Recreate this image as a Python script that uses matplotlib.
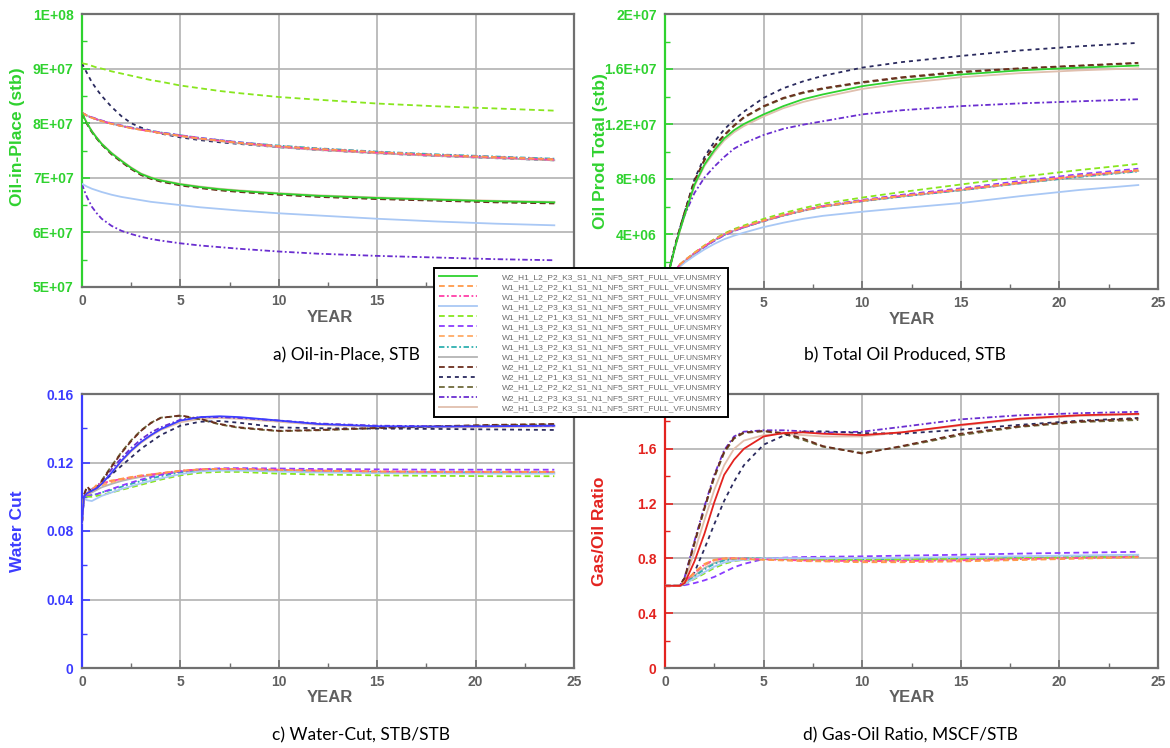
import matplotlib
matplotlib.use("Agg")
import matplotlib.pyplot as plt
from matplotlib.ticker import FixedLocator, MultipleLocator

# ---------------- data ----------------
SERIES = [
    "W2_H1_L2_P2_K3_S1_N1_NF5_SRT_FULL_VF.UNSMRY",
    "W1_H1_L2_P2_K1_S1_N1_NF5_SRT_FULL_VF.UNSMRY",
    "W1_H1_L2_P2_K2_S1_N1_NF5_SRT_FULL_VF.UNSMRY",
    "W1_H1_L2_P3_K3_S1_N1_NF5_SRT_FULL_VF.UNSMRY",
    "W1_H1_L2_P1_K3_S1_N1_NF5_SRT_FULL_VF.UNSMRY",
    "W1_H1_L3_P2_K3_S1_N1_NF5_SRT_FULL_UF.UNSMRY",
    "W1_H1_L2_P2_K3_S1_N1_NF5_SRT_FULL_VF.UNSMRY",
    "W1_H1_L3_P2_K3_S1_N1_NF5_SRT_FULL_VF.UNSMRY",
    "W1_H1_L2_P2_K3_S1_N1_NF5_SRT_FULL_UF.UNSMRY",
    "W2_H1_L2_P2_K1_S1_N1_NF5_SRT_FULL_VF.UNSMRY",
    "W2_H1_L2_P1_K3_S1_N1_NF5_SRT_FULL_VF.UNSMRY",
    "W2_H1_L2_P2_K2_S1_N1_NF5_SRT_FULL_VF.UNSMRY",
    "W2_H1_L2_P3_K3_S1_N1_NF5_SRT_FULL_VF.UNSMRY",
    "W2_H1_L3_P2_K3_S1_N1_NF5_SRT_FULL_VF.UNSMRY",
]

YEARS = [0, 0.1, 0.25, 0.5, 0.75, 1, 1.5, 2, 2.5, 3, 3.5, 4, 5, 6, 7, 8, 10, 12, 15, 18, 21, 24]

# a) Oil-in-place, units of 1E+07 stb (one row per series, order of SERIES)
OIP_E7 = [
    [8.19, 8.11, 8.00, 7.85, 7.73, 7.62, 7.45, 7.31, 7.18, 7.07, 7.00, 6.95, 6.88, 6.83, 6.79, 6.76, 6.71, 6.67, 6.63, 6.60, 6.57, 6.55],
    [8.19, 8.17, 8.14, 8.10, 8.07, 8.04, 7.99, 7.95, 7.91, 7.88, 7.85, 7.82, 7.77, 7.72, 7.68, 7.64, 7.58, 7.53, 7.47, 7.42, 7.38, 7.34],
    [8.19, 8.17, 8.14, 8.10, 8.07, 8.04, 7.99, 7.95, 7.91, 7.88, 7.85, 7.82, 7.77, 7.72, 7.68, 7.64, 7.57, 7.52, 7.46, 7.41, 7.37, 7.33],
    [6.89, 6.87, 6.84, 6.80, 6.77, 6.74, 6.69, 6.65, 6.62, 6.59, 6.56, 6.54, 6.50, 6.46, 6.43, 6.40, 6.35, 6.31, 6.25, 6.20, 6.16, 6.13],
    [9.10, 9.09, 9.08, 9.05, 9.02, 9.00, 8.95, 8.91, 8.87, 8.83, 8.79, 8.76, 8.69, 8.64, 8.59, 8.55, 8.48, 8.43, 8.36, 8.31, 8.27, 8.23],
    [8.19, 8.17, 8.14, 8.11, 8.08, 8.05, 8.00, 7.96, 7.92, 7.89, 7.86, 7.83, 7.78, 7.73, 7.69, 7.65, 7.58, 7.53, 7.47, 7.42, 7.38, 7.34],
    [8.19, 8.17, 8.14, 8.10, 8.07, 8.04, 7.99, 7.95, 7.91, 7.88, 7.85, 7.82, 7.77, 7.72, 7.68, 7.64, 7.57, 7.52, 7.46, 7.41, 7.37, 7.33],
    [8.19, 8.17, 8.14, 8.10, 8.07, 8.04, 7.99, 7.95, 7.92, 7.89, 7.86, 7.83, 7.78, 7.73, 7.69, 7.65, 7.59, 7.54, 7.48, 7.43, 7.39, 7.35],
    [8.19, 8.17, 8.14, 8.10, 8.07, 8.04, 7.99, 7.95, 7.91, 7.88, 7.85, 7.82, 7.76, 7.71, 7.67, 7.63, 7.56, 7.51, 7.45, 7.40, 7.36, 7.32],
    [8.19, 8.10, 7.99, 7.84, 7.72, 7.61, 7.43, 7.29, 7.16, 7.05, 6.98, 6.93, 6.86, 6.81, 6.77, 6.74, 6.69, 6.65, 6.61, 6.58, 6.55, 6.53],
    [9.10, 9.02, 8.92, 8.75, 8.62, 8.50, 8.30, 8.13, 8.00, 7.92, 7.86, 7.81, 7.74, 7.69, 7.65, 7.62, 7.56, 7.51, 7.45, 7.40, 7.36, 7.32],
    [8.19, 8.10, 7.99, 7.84, 7.72, 7.61, 7.44, 7.30, 7.17, 7.06, 6.99, 6.94, 6.87, 6.82, 6.78, 6.75, 6.70, 6.66, 6.62, 6.59, 6.56, 6.54],
    [6.89, 6.78, 6.65, 6.47, 6.35, 6.25, 6.12, 6.03, 5.97, 5.92, 5.88, 5.85, 5.80, 5.76, 5.73, 5.70, 5.65, 5.61, 5.57, 5.54, 5.51, 5.49],
    [8.19, 8.11, 8.01, 7.86, 7.74, 7.63, 7.46, 7.32, 7.19, 7.08, 7.01, 6.96, 6.89, 6.84, 6.80, 6.77, 6.72, 6.68, 6.64, 6.61, 6.58, 6.56],
]

# b) Cumulative oil produced, units of 1E+06 stb
NP_E6 = [
    [0, 0.62, 1.55, 3.00, 4.25, 5.40, 7.60, 9.05, 10.10, 10.95, 11.55, 12.00, 12.70, 13.30, 13.80, 14.15, 14.75, 15.15, 15.60, 15.90, 16.10, 16.25],
    [0, 0.36, 0.82, 1.33, 1.78, 2.08, 2.64, 3.14, 3.58, 3.98, 4.28, 4.53, 4.98, 5.38, 5.72, 6.02, 6.43, 6.78, 7.25, 7.75, 8.25, 8.65],
    [0, 0.36, 0.81, 1.32, 1.77, 2.07, 2.62, 3.12, 3.57, 3.97, 4.27, 4.52, 4.97, 5.37, 5.72, 6.02, 6.42, 6.77, 7.23, 7.73, 8.23, 8.63],
    [0, 0.33, 0.75, 1.22, 1.62, 1.92, 2.42, 2.88, 3.28, 3.62, 3.88, 4.10, 4.50, 4.82, 5.10, 5.32, 5.62, 5.88, 6.25, 6.75, 7.20, 7.56],
    [0, 0.36, 0.82, 1.33, 1.78, 2.08, 2.65, 3.17, 3.63, 4.04, 4.36, 4.62, 5.10, 5.52, 5.88, 6.20, 6.65, 7.05, 7.60, 8.15, 8.65, 9.10],
    [0, 0.34, 0.78, 1.28, 1.72, 2.02, 2.56, 3.05, 3.50, 3.90, 4.22, 4.48, 4.95, 5.37, 5.73, 6.05, 6.48, 6.85, 7.32, 7.85, 8.35, 8.75],
    [0, 0.35, 0.80, 1.30, 1.75, 2.05, 2.60, 3.10, 3.55, 3.95, 4.25, 4.50, 4.95, 5.35, 5.70, 6.00, 6.40, 6.75, 7.20, 7.70, 8.20, 8.60],
    [0, 0.35, 0.79, 1.29, 1.73, 2.03, 2.58, 3.08, 3.52, 3.92, 4.23, 4.48, 4.93, 5.33, 5.68, 5.98, 6.38, 6.72, 7.18, 7.68, 8.15, 8.55],
    [0, 0.35, 0.80, 1.30, 1.74, 2.04, 2.59, 3.09, 3.54, 3.94, 4.24, 4.49, 4.94, 5.34, 5.69, 5.99, 6.39, 6.73, 7.18, 7.68, 8.18, 8.58],
    [0, 0.65, 1.60, 3.10, 4.40, 5.60, 7.90, 9.40, 10.40, 11.20, 11.90, 12.50, 13.30, 13.90, 14.30, 14.60, 15.05, 15.40, 15.80, 16.05, 16.25, 16.45],
    [0, 0.65, 1.60, 3.10, 4.40, 5.60, 8.00, 9.60, 10.70, 11.60, 12.30, 12.90, 13.90, 14.60, 15.10, 15.50, 16.10, 16.50, 16.95, 17.35, 17.65, 17.90],
    [0, 0.65, 1.60, 3.10, 4.40, 5.60, 7.85, 9.35, 10.35, 11.15, 11.85, 12.45, 13.25, 13.85, 14.25, 14.55, 15.00, 15.35, 15.75, 16.02, 16.22, 16.42],
    [0, 0.64, 1.58, 3.05, 4.30, 5.40, 7.00, 8.10, 8.90, 9.60, 10.20, 10.60, 11.20, 11.65, 11.95, 12.20, 12.70, 13.00, 13.30, 13.50, 13.65, 13.80],
    [0, 0.60, 1.50, 2.95, 4.20, 5.35, 7.50, 8.95, 9.95, 10.80, 11.40, 11.85, 12.55, 13.15, 13.60, 13.95, 14.55, 14.95, 15.40, 15.70, 15.90, 16.05],
]

# c) Water cut, STB/STB
WCUT = [
    [0.085, 0.100, 0.1020, 0.1035, 0.1050, 0.1075, 0.1140, 0.1210, 0.1270, 0.1320, 0.1360, 0.1395, 0.1445, 0.1465, 0.1470, 0.1465, 0.1445, 0.1425, 0.1412, 0.1410, 0.1412, 0.1415],
    [0.085, 0.100, 0.1020, 0.1040, 0.1070, 0.1080, 0.1095, 0.1105, 0.1115, 0.1125, 0.1130, 0.1138, 0.1152, 0.1160, 0.1163, 0.1162, 0.1157, 0.1152, 0.1147, 0.1145, 0.1145, 0.1145],
    [0.085, 0.100, 0.1018, 0.1038, 0.1065, 0.1078, 0.1093, 0.1103, 0.1113, 0.1122, 0.1130, 0.1137, 0.1152, 0.1160, 0.1163, 0.1163, 0.1158, 0.1153, 0.1148, 0.1146, 0.1146, 0.1146],
    [0.085, 0.099, 0.0980, 0.0975, 0.0990, 0.1005, 0.1025, 0.1045, 0.1062, 0.1078, 0.1093, 0.1107, 0.1132, 0.1148, 0.1153, 0.1153, 0.1147, 0.1142, 0.1138, 0.1136, 0.1135, 0.1135],
    [0.085, 0.100, 0.1000, 0.1000, 0.1005, 0.1010, 0.1025, 0.1040, 0.1055, 0.1070, 0.1085, 0.1100, 0.1125, 0.1140, 0.1145, 0.1145, 0.1135, 0.1130, 0.1125, 0.1122, 0.1120, 0.1120],
    [0.085, 0.100, 0.1005, 0.1010, 0.1015, 0.1025, 0.1045, 0.1065, 0.1083, 0.1100, 0.1115, 0.1128, 0.1148, 0.1160, 0.1166, 0.1167, 0.1165, 0.1162, 0.1160, 0.1158, 0.1158, 0.1158],
    [0.085, 0.100, 0.1015, 0.1030, 0.1050, 0.1065, 0.1085, 0.1100, 0.1110, 0.1120, 0.1128, 0.1135, 0.1150, 0.1158, 0.1162, 0.1162, 0.1157, 0.1152, 0.1147, 0.1145, 0.1144, 0.1144],
    [0.085, 0.100, 0.1005, 0.1010, 0.1015, 0.1025, 0.1040, 0.1058, 0.1075, 0.1092, 0.1107, 0.1120, 0.1142, 0.1155, 0.1160, 0.1160, 0.1155, 0.1150, 0.1145, 0.1142, 0.1141, 0.1141],
    [0.085, 0.100, 0.1010, 0.1025, 0.1040, 0.1055, 0.1075, 0.1092, 0.1105, 0.1116, 0.1125, 0.1133, 0.1148, 0.1156, 0.1160, 0.1160, 0.1155, 0.1150, 0.1145, 0.1143, 0.1142, 0.1142],
    [0.085, 0.101, 0.1060, 0.1030, 0.1045, 0.1090, 0.1175, 0.1255, 0.1325, 0.1385, 0.1430, 0.1460, 0.1475, 0.1455, 0.1425, 0.1405, 0.1385, 0.1390, 0.1402, 0.1412, 0.1420, 0.1425],
    [0.085, 0.100, 0.1020, 0.1040, 0.1060, 0.1080, 0.1130, 0.1180, 0.1230, 0.1280, 0.1320, 0.1360, 0.1415, 0.1438, 0.1442, 0.1432, 0.1405, 0.1400, 0.1398, 0.1396, 0.1393, 0.1390],
    [0.085, 0.101, 0.1055, 0.1032, 0.1048, 0.1095, 0.1180, 0.1260, 0.1330, 0.1388, 0.1432, 0.1462, 0.1472, 0.1452, 0.1422, 0.1402, 0.1383, 0.1388, 0.1400, 0.1410, 0.1418, 0.1423],
    [0.085, 0.100, 0.1025, 0.1045, 0.1060, 0.1090, 0.1160, 0.1225, 0.1285, 0.1335, 0.1375, 0.1405, 0.1450, 0.1465, 0.1465, 0.1460, 0.1445, 0.1428, 0.1415, 0.1412, 0.1413, 0.1415],
    [0.085, 0.100, 0.1020, 0.1035, 0.1050, 0.1075, 0.1135, 0.1205, 0.1265, 0.1315, 0.1355, 0.1390, 0.1435, 0.1455, 0.1460, 0.1455, 0.1438, 0.1420, 0.1408, 0.1405, 0.1407, 0.1410],
]

# d) Gas-oil ratio, MSCF/STB
GOR = [
    [0.6, 0.6, 0.6, 0.6, 0.6, 0.620, 0.78, 0.98, 1.21, 1.41, 1.52, 1.60, 1.690, 1.715, 1.720, 1.710, 1.700, 1.720, 1.775, 1.820, 1.845, 1.855],
    [0.6, 0.6, 0.6, 0.6, 0.6, 0.630, 0.700, 0.760, 0.790, 0.800, 0.800, 0.795, 0.790, 0.785, 0.780, 0.778, 0.772, 0.772, 0.778, 0.788, 0.798, 0.808],
    [0.6, 0.6, 0.6, 0.6, 0.6, 0.630, 0.695, 0.755, 0.788, 0.800, 0.801, 0.798, 0.793, 0.789, 0.785, 0.783, 0.780, 0.781, 0.786, 0.795, 0.803, 0.812],
    [0.6, 0.6, 0.6, 0.6, 0.6, 0.615, 0.655, 0.700, 0.740, 0.770, 0.783, 0.790, 0.800, 0.802, 0.802, 0.802, 0.802, 0.805, 0.810, 0.816, 0.822, 0.827],
    [0.6, 0.6, 0.6, 0.6, 0.6, 0.615, 0.650, 0.690, 0.730, 0.760, 0.780, 0.790, 0.795, 0.795, 0.793, 0.791, 0.790, 0.792, 0.797, 0.803, 0.808, 0.812],
    [0.6, 0.6, 0.6, 0.6, 0.6, 0.605, 0.620, 0.640, 0.665, 0.700, 0.735, 0.760, 0.795, 0.805, 0.810, 0.812, 0.815, 0.820, 0.827, 0.835, 0.842, 0.848],
    [0.6, 0.6, 0.6, 0.6, 0.6, 0.625, 0.690, 0.750, 0.785, 0.798, 0.800, 0.798, 0.793, 0.790, 0.787, 0.785, 0.782, 0.783, 0.788, 0.796, 0.804, 0.812],
    [0.6, 0.6, 0.6, 0.6, 0.6, 0.620, 0.670, 0.720, 0.760, 0.785, 0.795, 0.800, 0.800, 0.798, 0.796, 0.794, 0.792, 0.793, 0.798, 0.804, 0.810, 0.816],
    [0.6, 0.6, 0.6, 0.6, 0.6, 0.620, 0.675, 0.730, 0.767, 0.790, 0.797, 0.799, 0.797, 0.794, 0.791, 0.789, 0.786, 0.787, 0.792, 0.800, 0.807, 0.814],
    [0.6, 0.6, 0.6, 0.6, 0.6, 0.660, 0.92, 1.17, 1.40, 1.58, 1.68, 1.72, 1.730, 1.715, 1.675, 1.620, 1.565, 1.620, 1.710, 1.765, 1.800, 1.820],
    [0.6, 0.6, 0.6, 0.6, 0.6, 0.610, 0.70, 0.87, 1.05, 1.22, 1.36, 1.48, 1.630, 1.695, 1.725, 1.728, 1.715, 1.710, 1.740, 1.775, 1.805, 1.825],
    [0.6, 0.6, 0.6, 0.6, 0.6, 0.655, 0.91, 1.16, 1.39, 1.57, 1.675, 1.715, 1.728, 1.710, 1.665, 1.615, 1.570, 1.615, 1.700, 1.760, 1.795, 1.810],
    [0.6, 0.6, 0.6, 0.6, 0.6, 0.665, 0.93, 1.18, 1.41, 1.59, 1.69, 1.725, 1.735, 1.735, 1.728, 1.718, 1.725, 1.760, 1.815, 1.845, 1.860, 1.870],
    [0.6, 0.6, 0.6, 0.6, 0.6, 0.640, 0.85, 1.08, 1.30, 1.48, 1.60, 1.66, 1.700, 1.710, 1.700, 1.690, 1.690, 1.720, 1.770, 1.815, 1.840, 1.850],
]

OIP_TICKS = [5e7, 6e7, 7e7, 8e7, 9e7, 1e8]
OIP_TICKLABELS = ["5E+07", "6E+07", "7E+07", "8E+07", "9E+07", "1E+08"]
NP_TICKS = [0, 4e6, 8e6, 1.2e7, 1.6e7, 2e7]
NP_TICKLABELS = ["0", "4E+06", "8E+06", "1.2E+07", "1.6E+07", "2E+07"]
WCUT_TICKS = [0, 0.04, 0.08, 0.12, 0.16]
WCUT_TICKLABELS = ["0", "0.04", "0.08", "0.12", "0.16"]
GOR_TICKS = [0, 0.4, 0.8, 1.2, 1.6, 2.0]
GOR_TICKLABELS = ["0", "0.4", "0.8", "1.2", "1.6", "2"]
YEAR_TICKS = [0, 5, 10, 15, 20, 25]
YEAR_TICKLABELS = ["0", "5", "10", "15", "20", "25"]

# ---------------- styles ----------------
DASH = (0, (3.2, 2.0))
DASH_S = (0, (2.2, 2.2))
DASHDOT = (0, (3.0, 1.4, 1.0, 1.4))
STYLES = [
    (None, "-"),            # first series takes the panel colour
    ("#ff9a4a", DASH),
    ("#ff3fa8", DASHDOT),
    ("#a9c8f5", "-"),
    ("#88e61e", DASH),
    ("#8a3cff", DASH),
    ("#ffaa66", DASH),
    ("#2fb0b0", DASHDOT),
    ("#b4b4b4", "-"),
    ("#6b2e1e", DASH),
    ("#2a2a5e", DASH_S),
    ("#6e6a3a", DASH),
    ("#6a2ed0", DASHDOT),
    ("#e0bfae", "-"),
]

GREEN = "#2fd22f"
BLUE = "#3c3cff"
RED = "#e3231f"
GRAY_TXT = "#606060"
FRAME = "#707070"
GRID = "#b2b2b2"

W, H = 1170, 748
fig = plt.figure(figsize=(W / 100, H / 100), dpi=100)
fig.patch.set_facecolor("white")


def px_axes(left, top, right, bottom):
    return fig.add_axes([left / W, 1 - bottom / H, (right - left) / W, (bottom - top) / H])


BOLD = dict(family="Liberation Sans", weight="bold")


def shown(ticks, labels, hidden):
    # tick labels that sit beneath the legend box in the original are left blank
    return [("" if t in hidden else lab) for t, lab in zip(ticks, labels)]


def setup(ax, color, yticks, ylabels, ylim, yminor, hide_x=(), hide_y=()):
    ax.set_xlim(0, 25)
    ax.set_ylim(*ylim)
    ax.xaxis.set_major_locator(FixedLocator(YEAR_TICKS))
    ax.set_xticklabels(shown(YEAR_TICKS, YEAR_TICKLABELS, hide_x))
    ax.xaxis.set_minor_locator(MultipleLocator(2.5))
    ax.yaxis.set_major_locator(FixedLocator(yticks))
    ax.set_yticklabels(shown(yticks, ylabels, hide_y))
    ax.yaxis.set_minor_locator(MultipleLocator(yminor))
    ax.grid(True, which="major", color=GRID, lw=1.2, zorder=0)
    ax.set_axisbelow(True)
    for s in ("top", "right", "bottom"):
        ax.spines[s].set_color(FRAME)
        ax.spines[s].set_linewidth(1.6)
    ax.spines["left"].set_color(color)
    ax.spines["left"].set_linewidth(1.6)
    ax.tick_params(axis="x", which="both", direction="in", colors=FRAME, pad=5)
    ax.tick_params(axis="x", which="major", length=6, width=1.2, labelsize=10, labelcolor=GRAY_TXT)
    ax.tick_params(axis="x", which="minor", length=3.5, width=1.0)
    ax.tick_params(axis="y", which="both", direction="in", colors=color, pad=6)
    ax.tick_params(axis="y", which="major", length=6, width=1.2, labelsize=10, labelcolor=color)
    ax.tick_params(axis="y", which="minor", length=3.5, width=1.0)
    for lab in ax.get_xticklabels() + ax.get_yticklabels():
        lab.set_fontfamily("Liberation Sans")
        lab.set_fontweight("bold")


panels = [
    (px_axes(82, 14, 574, 287), OIP_E7, 1e7, GREEN, OIP_TICKS, OIP_TICKLABELS, (5e7, 1e8), 5e6, (20, 25), ()),
    (px_axes(665, 14, 1158, 289), NP_E6, 1e6, GREEN, NP_TICKS, NP_TICKLABELS, (0, 2e7), 2e6, (0,), (0,)),
    (px_axes(82, 394, 574, 668), WCUT, 1.0, BLUE, WCUT_TICKS, WCUT_TICKLABELS, (0, 0.16), 0.02, (), ()),
    (px_axes(665, 394, 1158, 668), GOR, 1.0, RED, GOR_TICKS, GOR_TICKLABELS, (0, 2.0), 0.2, (), (2.0,)),
]

legend_handles = None
for ax, data, scale, color, yt, yl, ylim, ymin, hx, hy in panels:
    setup(ax, color, yt, yl, ylim, ymin, hx, hy)
    handles = []
    for i, (name, vals) in enumerate(zip(SERIES, data)):
        c, ls = STYLES[i]
        if c is None:
            c = color
        ln, = ax.plot(YEARS, [v * scale for v in vals], color=c, ls=ls, lw=1.3,
                      label=name, zorder=3 + (14 - i) * 0.01)
        handles.append(ln)
    if legend_handles is None:
        legend_handles = handles

# axis titles
ylabels = [("Oil-in-Place (stb)", 18, 137, GREEN), ("Oil Prod Total (stb)", 601, 151, GREEN),
           ("Water Cut", 18, 531, BLUE), ("Gas/Oil Ratio", 600, 531, RED)]
for txt, x, y, c in ylabels:
    fig.text(x / W, 1 - y / H, txt, rotation=90, ha="center", va="center",
             color=c, fontsize=12.5, **BOLD)

for x, y in [(330, 317), (912, 319), (330, 698), (912, 698)]:
    fig.text(x / W, 1 - y / H, "YEAR", ha="center", va="center", color=GRAY_TXT,
             fontsize=12, **BOLD)

captions = [("a) Oil-in-Place, STB", 346, 355), ("b) Total Oil Produced, STB", 905, 355),
            ("c) Water-Cut, STB/STB", 361, 735), ("d) Gas-Oil Ratio, MSCF/STB", 910, 735)]
for txt, x, y in captions:
    fig.text(x / W, 1 - y / H, txt, ha="center", va="center", color="black",
             fontsize=12.5, family="Lato")

leg = fig.legend(legend_handles, SERIES, loc="upper left",
                 bbox_to_anchor=(434 / W, 1 - 268 / H), bbox_transform=fig.transFigure,
                 prop=dict(family="Liberation Sans", size=6), labelcolor="#6a6a6a",
                 handlelength=4.6, handletextpad=3.0, labelspacing=0.27,
                 borderpad=0.6, borderaxespad=0, fancybox=False, framealpha=1,
                 edgecolor="black")
leg.get_frame().set_linewidth(1.4)
leg.set_zorder(10)

fig.savefig("out.png", dpi=100, facecolor="white")
